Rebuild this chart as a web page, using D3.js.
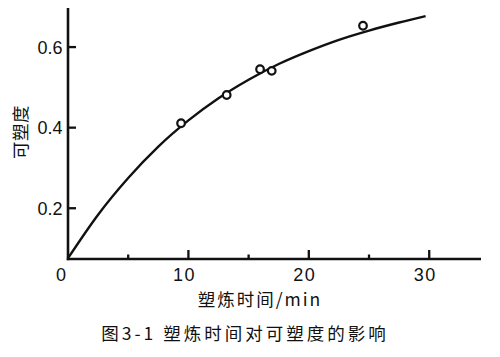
<!DOCTYPE html>
<html><head><meta charset="utf-8">
<script src="https://cdn.jsdelivr.net/npm/d3@7"></script>
<style>
body{margin:0;background:#fff;}
text{font-family:"Liberation Sans",Arial,"Noto Sans CJK SC",sans-serif;fill:#111;}
.cjk{font-family:"Noto Sans CJK SC",sans-serif;}
</style></head><body>
<svg id="c" width="500" height="357"></svg>
<script>
// data
const pointX = [9.39, 13.18, 15.95, 16.92, 24.5];
const pointY = [0.411, 0.481, 0.545, 0.541, 0.653];
const curveX = [0, 2.5, 5, 7.5, 10, 12.5, 15, 17.5, 20, 22.5, 25, 27.5, 29.7];
const curveY = [0.076, 0.184, 0.275, 0.353, 0.418, 0.473, 0.519, 0.558, 0.590, 0.618, 0.641, 0.661, 0.677];
const xMajorTicks = [10, 20, 30];
const xMinorTicks = [5, 15, 25];
const xTickLabels = ["0", "10", "20", "30"];
const xLabelValues = [0, 10, 20, 30];
const yTicks = [0.2, 0.4, 0.6];
const yTickLabels = ["0.2", "0.4", "0.6"];
const xTitle = "塑炼时间/min";
const yTitle = "可塑度";
const caption = "图3-1 塑炼时间对可塑度的影响";

const svg = d3.select("#c");
const x = d3.scaleLinear().domain([0, 34.3]).range([68, 481]);
const y = d3.scaleLinear().domain([0.074, 0.697]).range([259, 8]);

// axes lines
svg.append("line").attr("x1", x(0)).attr("x2", x(0)).attr("y1", y.range()[1]).attr("y2", y.range()[0] + 1.2)
  .attr("stroke", "#111").attr("stroke-width", 2.6);
svg.append("line").attr("x1", x(0) - 1.2).attr("x2", x.range()[1]).attr("y1", y.range()[0]).attr("y2", y.range()[0])
  .attr("stroke", "#111").attr("stroke-width", 2.6);

// y ticks
svg.selectAll(".yt").data(yTicks).join("line")
  .attr("x1", x(0)).attr("x2", x(0) + 8).attr("y1", d => y(d)).attr("y2", d => y(d))
  .attr("stroke", "#111").attr("stroke-width", 2.3);
svg.selectAll(".yl").data(yTicks).join("text")
  .attr("x", x(0) - 5.5).attr("y", d => y(d) + 6.5).attr("text-anchor", "end")
  .attr("font-size", 18).text((d, i) => yTickLabels[i]);

// x ticks
svg.selectAll(".xt").data(xMajorTicks).join("line")
  .attr("x1", d => x(d)).attr("x2", d => x(d)).attr("y1", y.range()[0]).attr("y2", y.range()[0] - 9)
  .attr("stroke", "#111").attr("stroke-width", 2.3);
svg.selectAll(".xm").data(xMinorTicks).join("line")
  .attr("x1", d => x(d)).attr("x2", d => x(d)).attr("y1", y.range()[0]).attr("y2", y.range()[0] - 4.5)
  .attr("stroke", "#111").attr("stroke-width", 2.3);
svg.selectAll(".xl").data(xLabelValues).join("text")
  .attr("x", d => x(d) - (d === 0 ? 7 : 4)).attr("y", 280.5).attr("text-anchor", "middle")
  .attr("font-size", 18).attr("letter-spacing", d => d === 0 ? 0 : 1.5).text((d, i) => xTickLabels[i]);

// curve
const line = d3.line().x(d => x(d[0])).y(d => y(d[1])).curve(d3.curveMonotoneX);
svg.append("path").datum(curveX.map((v, i) => [v, curveY[i]]))
  .attr("d", line).attr("fill", "none").attr("stroke", "#111").attr("stroke-width", 2.4);

// points
svg.selectAll(".pt").data(pointX.map((v, i) => [v, pointY[i]])).join("circle")
  .attr("cx", d => x(d[0])).attr("cy", d => y(d[1])).attr("r", 3.8)
  .attr("fill", "#fff").attr("stroke", "#111").attr("stroke-width", 2.2);

// titles
svg.append("text").attr("class", "cjk").attr("x", 260).attr("y", 305.5).attr("text-anchor", "middle")
  .attr("font-size", 17.5).attr("letter-spacing", 2).text(xTitle);
svg.append("text").attr("class", "cjk").attr("transform", "translate(26.5,132) rotate(-90)")
  .attr("text-anchor", "middle").attr("font-size", 17.5).attr("letter-spacing", 0.5).text(yTitle);
svg.append("text").attr("class", "cjk").attr("x", 245).attr("y", 339.5).attr("text-anchor", "middle")
  .attr("font-size", 17.5).attr("letter-spacing", 3).text(caption);
</script></body></html>
